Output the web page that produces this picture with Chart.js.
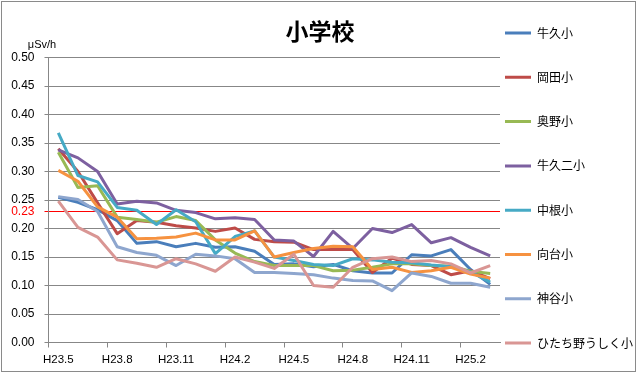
<!DOCTYPE html>
<html>
<head>
<meta charset="utf-8">
<script src="https://cdn.jsdelivr.net/npm/chart.js@4.4.0/dist/chart.umd.min.js"></script>
<style>
html,body{margin:0;padding:0;background:#fff;overflow:hidden}
canvas{display:block}
</style>
</head>
<body>
<canvas id="c" width="640" height="383" style="width:640px;height:383px"></canvas>
<script>
// ---- data ----
const titleText = '小学校';
const unitLabel = 'μSv/h';
const limitValue = 0.23;
const categories = ['H23.5','H23.6','H23.7','H23.8','H23.9','H23.10','H23.11','H23.12',
  'H24.1','H24.2','H24.3','H24.4','H24.5','H24.6','H24.7','H24.8','H24.9','H24.10',
  'H24.11','H24.12','H25.1','H25.2','H25.3'];
const tickLabels = ['H23.5','H23.8','H23.11','H24.2','H24.5','H24.8','H24.11','H25.2'];
const seriesNames = ['牛久小','岡田小','奥野小','牛久二小','中根小','向台小','神谷小','ひたち野うしく小'];
const ushikuSho   = [0.255,0.246,0.233,0.214,0.174,0.177,0.168,0.174,0.167,0.168,0.160,0.137,0.138,0.133,0.137,0.126,0.122,0.122,0.154,0.152,0.163,0.128,0.102];
const okadaSho    = [0.340,0.300,0.245,0.191,0.214,0.211,0.205,0.201,0.195,0.201,0.181,0.177,0.176,0.163,0.163,0.163,0.123,0.148,0.137,0.135,0.119,0.126,0.112];
const okunoSho    = [0.334,0.272,0.275,0.220,0.216,0.211,0.221,0.214,0.180,0.157,0.142,0.135,0.135,0.135,0.126,0.127,0.132,0.138,0.138,0.135,0.134,0.125,0.121];
const ushiku2Sho  = [0.338,0.324,0.300,0.243,0.248,0.245,0.232,0.228,0.217,0.219,0.216,0.180,0.178,0.151,0.195,0.165,0.200,0.193,0.207,0.175,0.184,0.167,0.152];
const nakaneSho   = [0.368,0.293,0.282,0.237,0.232,0.207,0.233,0.212,0.156,0.186,0.196,0.150,0.144,0.137,0.135,0.147,0.145,0.141,0.140,0.136,0.133,0.124,0.106];
const mukaidaiSho = [0.302,0.283,0.238,0.220,0.182,0.183,0.185,0.192,0.180,0.180,0.196,0.150,0.158,0.165,0.169,0.168,0.128,0.132,0.123,0.126,0.132,0.120,0.113];
const kamiyaSho   = [0.256,0.251,0.230,0.168,0.158,0.153,0.135,0.155,0.152,0.147,0.123,0.123,0.121,0.119,0.113,0.109,0.108,0.091,0.122,0.116,0.104,0.104,0.097];
const hitachinoSho= [0.248,0.202,0.185,0.145,0.139,0.132,0.147,0.138,0.125,0.150,0.141,0.130,0.155,0.100,0.097,0.132,0.147,0.150,0.142,0.144,0.138,0.122,0.135];
const seriesValues = [ushikuSho, okadaSho, okunoSho, ushiku2Sho, nakaneSho, mukaidaiSho, kamiyaSho, hitachinoSho];
const seriesColors = ['#4A7EBB','#BE4B48','#98B954','#7D60A0','#46AAC5','#F69240','#8EA6CE','#D99694'];

// ---- chart ----
const GRID = '#878787';
const isLimit = c => c.tick && Math.abs(c.tick.value - limitValue) < 1e-9;

const decor = {
  id: 'decor',
  beforeDraw(chart) {
    const ctx = chart.ctx;
    ctx.save();
    ctx.fillStyle = '#fff';
    ctx.fillRect(0, 0, chart.width, chart.height);
    ctx.restore();
  },
  afterLayout(chart) {
    const lg = chart.legend;
    const P = lg.options.labels.padding;
    lg.left = 505 - P; lg.right = 640; lg.width = lg.right - lg.left;
    lg.top = 27 - P; lg.bottom = 430; lg.height = lg.bottom - lg.top;
  },
  afterDraw(chart) {
    const ctx = chart.ctx;
    ctx.save();
    ctx.fillStyle = '#000';
    ctx.font = '11px "Liberation Sans", Arial, sans-serif';
    ctx.textAlign = 'center';
    ctx.textBaseline = 'middle';
    ctx.fillText(unitLabel, 42, 45);
    ctx.strokeStyle = '#8a8a8a';
    ctx.lineWidth = 1;
    ctx.strokeRect(1.5, 1.5, 634, 370);
    ctx.restore();
  }
};

Chart.defaults.font.family = '"Liberation Sans", Arial, sans-serif';

new Chart(document.getElementById('c'), {
  type: 'line',
  data: {
    labels: categories,
    datasets: seriesNames.map((name, i) => ({
      label: name,
      data: seriesValues[i],
      borderColor: seriesColors[i],
      backgroundColor: seriesColors[i],
      borderWidth: 3,
      pointRadius: 0,
      pointHoverRadius: 0,
      tension: 0,
      fill: false,
      borderJoinStyle: 'round',
      order: seriesNames.length - i
    }))
  },
  options: {
    responsive: false,
    devicePixelRatio: 1,
    animation: false,
    layout: { padding: { top: 0, left: 0, right: 0, bottom: 0 } },
    plugins: {
      title: {
        display: true,
        text: titleText,
        color: '#000',
        font: { family: '"Noto Sans CJK JP", sans-serif', size: 23, weight: 'bold', lineHeight: 1.2 },
        padding: { top: 17, bottom: 13 }
      },
      legend: {
        position: 'right',
        align: 'start',
        maxWidth: 140,
        labels: {
          usePointStyle: true,
          pointStyle: 'line',
          pointStyleWidth: 26,
          padding: 32.3,
          color: '#000',
          font: { family: '"Noto Sans CJK JP", sans-serif', size: 12 },
          sort: (a, b) => a.datasetIndex - b.datasetIndex
        }
      },
      tooltip: { enabled: false }
    },
    scales: {
      x: {
        offset: true,
        afterFit(s) { s.height = 40.5; },
        grid: {
          offset: true,
          drawOnChartArea: false,
          drawTicks: true,
          tickLength: 5,
          color: c => (c.index !== undefined && c.index % 3 === 0) ? GRID : 'rgba(0,0,0,0)'
        },
        border: { color: GRID, width: 1 },
        ticks: {
          autoSkip: false,
          maxRotation: 0,
          minRotation: 0,
          padding: 5,
          color: '#000',
          font: { size: 11.5 },
          callback: function (v, i) {
            const lab = categories[i];
            return tickLabels.includes(lab) ? lab : '';
          }
        }
      },
      y: {
        min: 0,
        max: 0.5,
        afterFit(s) { s.width = 48.5; },
        afterBuildTicks(s) {
          s.ticks.push({ value: limitValue });
          s.ticks.sort((a, b) => a.value - b.value);
        },
        grid: {
          color: c => isLimit(c) ? '#ff0000' : GRID,
          tickColor: c => isLimit(c) ? '#ff0000' : GRID,
          tickLength: 4,
          lineWidth: 1
        },
        border: { color: GRID, width: 1 },
        ticks: {
          stepSize: 0.05,
          autoSkip: false,
          padding: 10,
          color: c => isLimit(c) ? '#ff0000' : '#000',
          font: { size: 12 },
          callback: v => Number(v).toFixed(2)
        }
      }
    }
  },
  plugins: [decor]
});
</script>
</body>
</html>
